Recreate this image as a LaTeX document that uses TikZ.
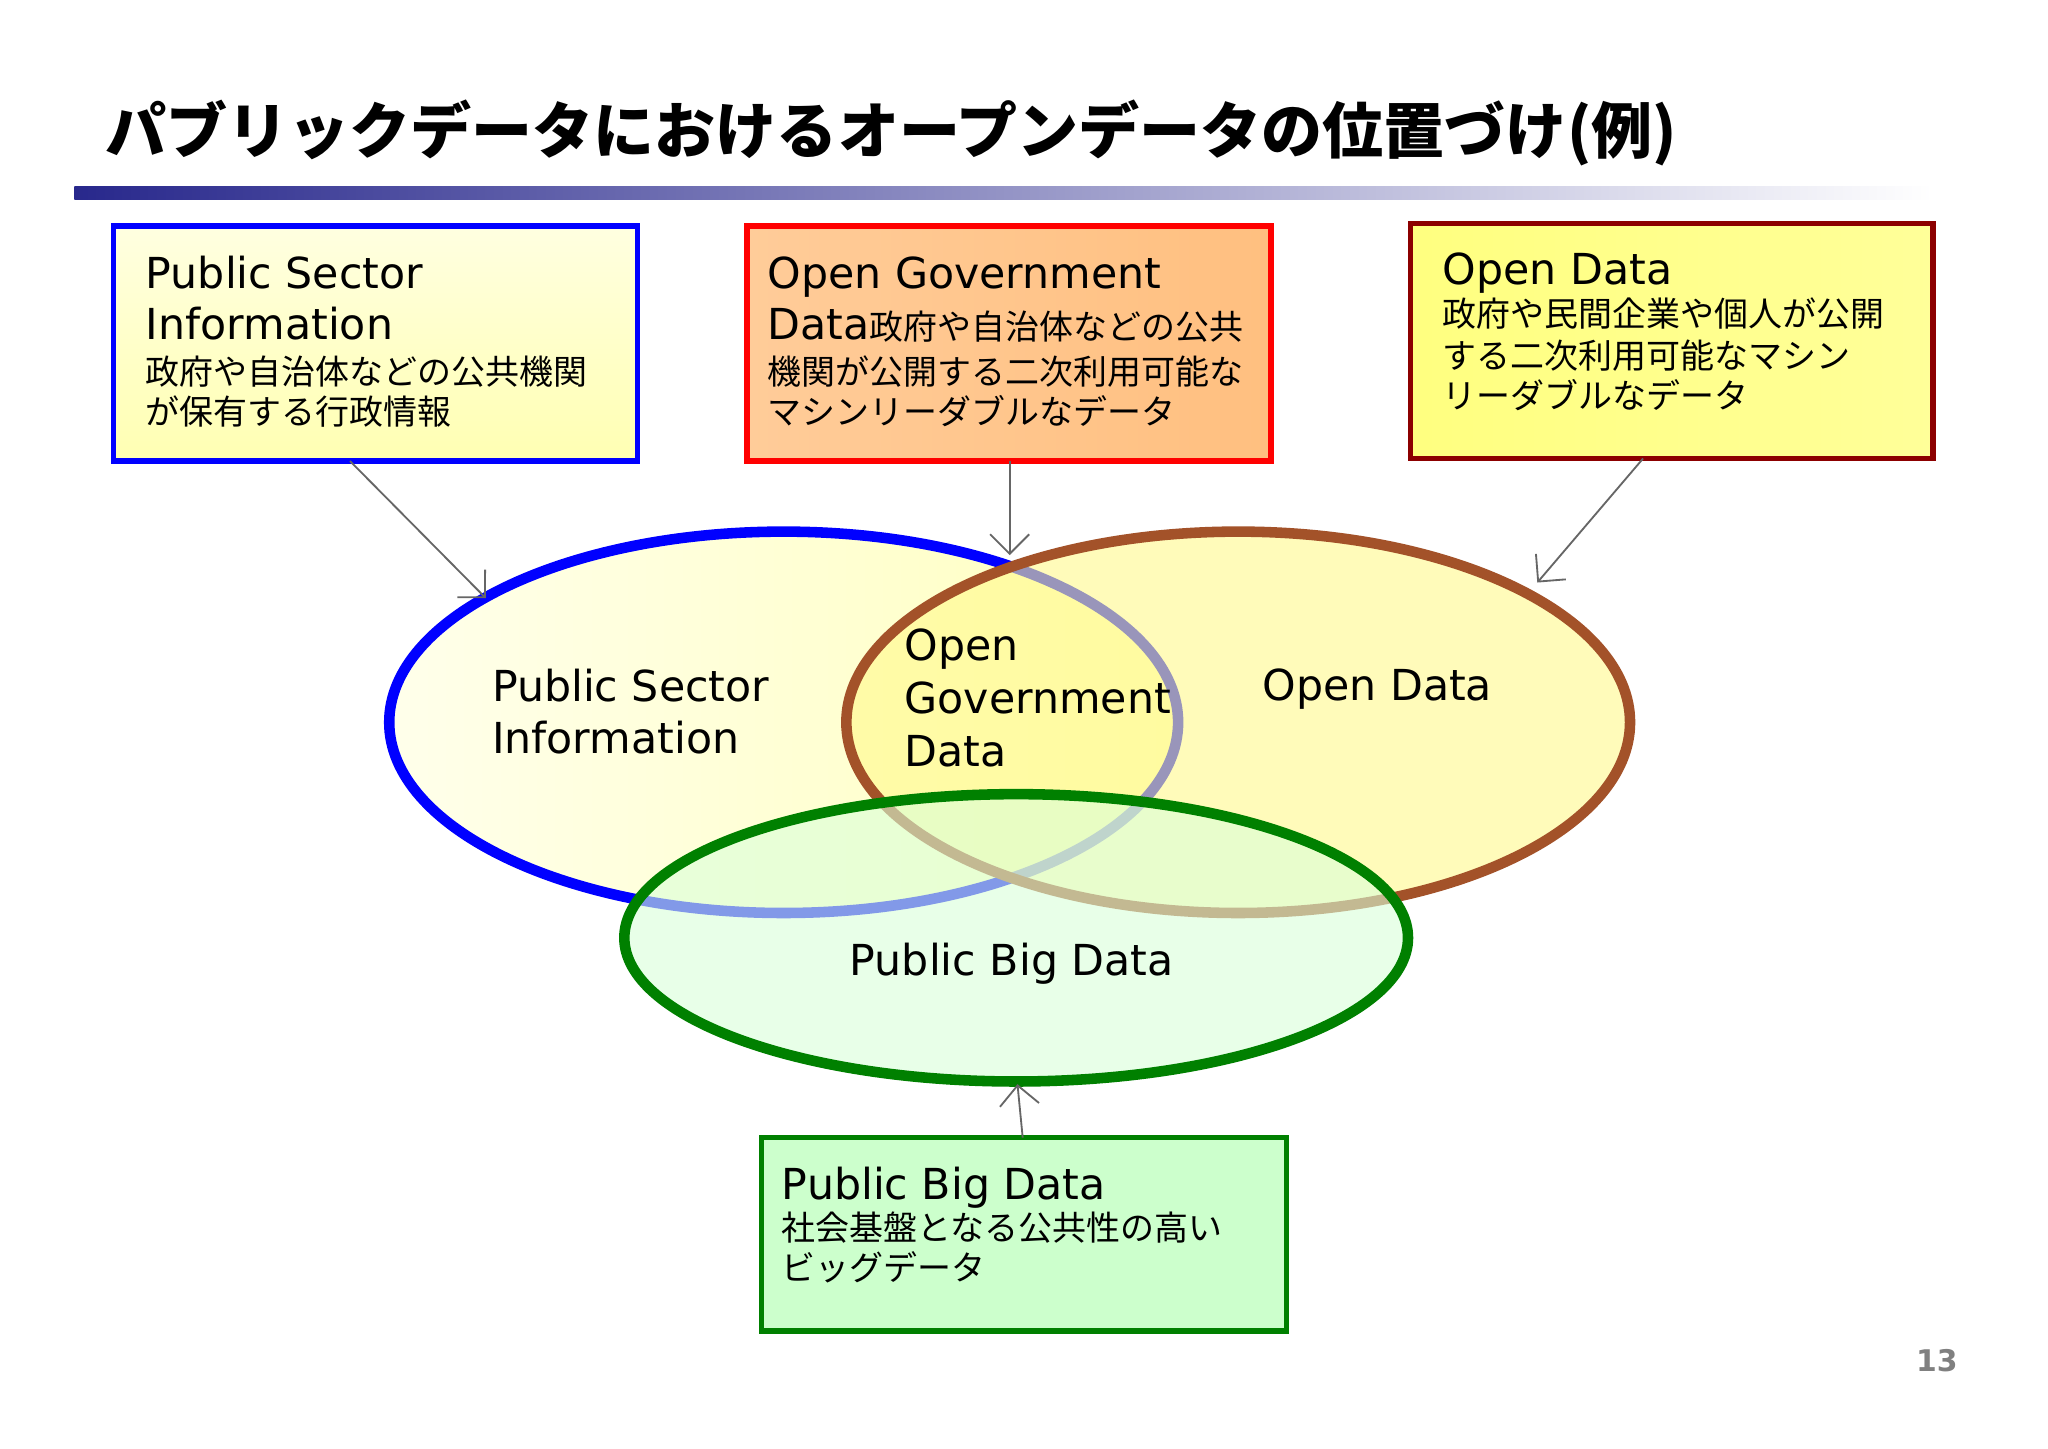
\documentclass[tikz,border=0pt]{standalone}
\usepackage{fontspec}
\setmainfont{DejaVu Sans}
\newfontfamily\jp{Noto Sans CJK JP}
\usetikzlibrary{arrows.meta}
\definecolor{bluebar}{RGB}{40,40,140}
\tikzset{x=0.1mm,y=-0.1mm,
 arr/.style={draw=gray!80!black,line width=0.4pt,-{Straight Barb[length=1.5mm]}},
 ell/.style={line width=2.3pt},
 en/.style={anchor=base west,inner sep=0pt,font=\fontsize{9.3}{11}\selectfont},
 jpt/.style={anchor=base west,inner sep=0pt,font=\jp\fontsize{7.4}{8.8}\selectfont}}
\begin{document}
\begin{tikzpicture}
\useasboundingbox (0,0) rectangle (1568,1109);
\fill[white] (0,0) rectangle (1568,1109);
\node[anchor=west,font=\jp\bfseries\fontsize{13.3}{16}\selectfont,inner sep=0pt] (title) at (80,102) {パブリックデータにおけるオープンデータの位置づけ(例)};
\shade[left color=bluebar,right color=white] (57,143) rectangle (1480,153);
% boxes
\draw[draw=blue,line width=1.2pt,top color=yellow!12,bottom color=yellow!30] (87,173) rectangle (488,353);
\draw[draw=red,line width=1.2pt,left color=orange!40,right color=orange!50] (572,173) rectangle (973,353);
\draw[draw=red!55!black,line width=1.2pt,left color=yellow!50,right color=yellow!40] (1080,171) rectangle (1480,351);
\draw[draw=green!50!black,line width=1.2pt,fill=green!20] (583,871) rectangle (985,1019);
\coordinate (b1) at (268,353); \coordinate (b2) at (773,353); \coordinate (b3) at (1258,351); \coordinate (b4) at (783,871);
\node[en] (t1a) at (111,221) {Public Sector};
\node[en] (t1b) at (111,260) {Information};
\node[jpt] (t1c) at (111,294) {政府や自治体などの公共機関};
\node[jpt] (t1d) at (111,325) {が保有する行政情報};
\node[en] (t2a) at (587,221) {Open Government};
\node[en] (t2b) at (587,260) {Data{\jp\fontsize{7.4}{8.8}\selectfont 政府や自治体などの公共}};
\node[jpt] (t2c) at (587,294) {機関が公開する二次利用可能な};
\node[jpt] (t2d) at (587,325) {マシンリーダブルなデータ};
\node[en] (t3a) at (1104,218) {Open Data};
\node[jpt] (t3b) at (1104,250) {政府や民間企業や個人が公開};
\node[jpt] (t3c) at (1104,282) {する二次利用可能なマシン};
\node[jpt] (t3d) at (1104,313) {リーダブルなデータ};
\node[en] (t4a) at (598,918) {Public Big Data};
\node[jpt] (t4b) at (598,950) {社会基盤となる公共性の高い};
\node[jpt] (t4c) at (598,980) {ビッグデータ};
% ellipses
\draw[ell,draw=blue,left color=yellow!8,right color=yellow!25] (600,553) ellipse [x radius=302,y radius=146];
\draw[ell,draw=brown!80!red!80!black,fill=yellow!45,fill opacity=0.6] (948,553) ellipse [x radius=300,y radius=146];
\draw[ell,draw=green!50!black,fill=green!15,fill opacity=0.6] (778,718) ellipse [x radius=300,y radius=110];
\coordinate (e1) at (372,458); \coordinate (e2) at (773,425); \coordinate (e3) at (1177,446); \coordinate (e4) at (779,830);
\draw[arr] (b1) -- (e1); \draw[arr] (b2) -- (e2); \draw[arr] (b3) -- (e3); \draw[arr] (b4) -- (e4);
\node[en] (l1a) at (376,537) {Public Sector};
\node[en] (l1b) at (376,577) {Information};
\node[en] (l2a) at (692,506) {Open};
\node[en] (l2b) at (692,546) {Government};
\node[en] (l2c) at (692,587) {Data};
\node[en] (l3) at (966,536) {Open Data};
\node[en] (l4) at (650,747) {Public Big Data};
\node[font=\bfseries\fontsize{6.5}{8}\selectfont,text=gray] (pn) at (1483,1042) {13};
\end{tikzpicture}
\end{document}
